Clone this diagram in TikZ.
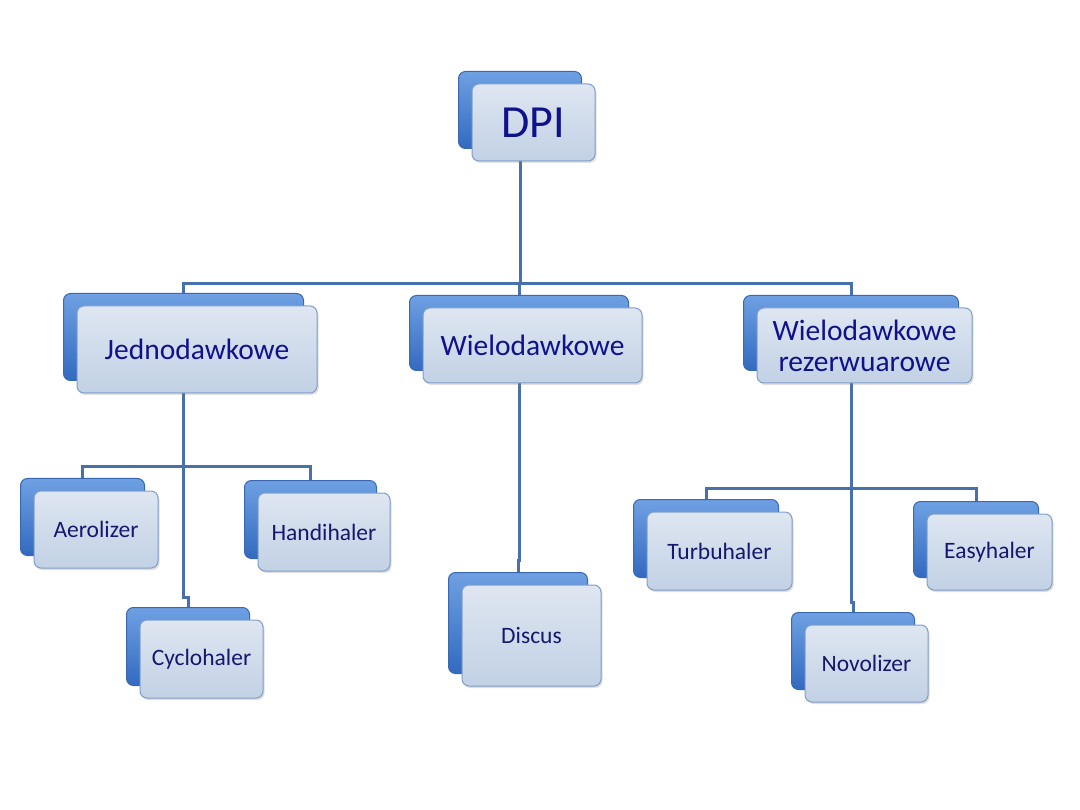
\documentclass[tikz,border=0pt]{standalone}
\usepackage{fontspec}
\setmainfont{Carlito}
\usetikzlibrary{shadows,backgrounds}
\definecolor{linecol}{RGB}{72,112,170}
\definecolor{txtbig}{RGB}{16,18,140}
\definecolor{txtsmall}{RGB}{22,24,110}
\definecolor{backtop}{RGB}{110,160,226}
\definecolor{backbot}{RGB}{50,106,192}
\definecolor{backedge}{RGB}{58,104,178}
\definecolor{fronttop}{RGB}{222,230,241}
\definecolor{frontbot}{RGB}{194,209,229}
\definecolor{frontedge}{RGB}{128,158,200}
\tikzset{
  backbox/.style={rounded corners=7pt, top color=backtop, bottom color=backbot,
    draw=backedge, line width=1pt, inner sep=0pt},
  frontbox/.style={rounded corners=7pt, top color=fronttop, bottom color=frontbot,
    draw=frontedge, line width=1pt, inner sep=0pt, align=center,
    drop shadow={opacity=0.25, shadow xshift=1.5pt, shadow yshift=-2pt}},
  big/.style={font=\fontsize{29.5}{31}\selectfont, text=txtbig},
  small/.style={font=\fontsize{23.5}{25}\selectfont, text=txtsmall},
  conn/.style={draw=linecol, line width=3pt},
}
\newcommand{\dbox}[7]{%
  % #1 name, #2 cx, #3 cy, #4 w, #5 h, #6 style, #7 text
  \node[backbox, minimum width=#4pt, minimum height=#5pt] (#1b) at (#2-13.5,#3-12.5) {};
  \node[frontbox, minimum width=#4pt, minimum height=#5pt, #6] (#1) at (#2,#3) {#7};
}
\begin{document}
\begin{tikzpicture}[x=1pt,y=-1pt]
\useasboundingbox (0,0) rectangle (1080,810);
\dbox{dpi}{533.5}{122.5}{123}{77}{font=\fontsize{46}{48}\selectfont, text=txtbig}{DPI}
\dbox{J}{197}{349.5}{240}{87}{big}{Jednodawkowe}
\dbox{W}{532.5}{345.5}{219}{75}{big}{Wielodawkowe}
\dbox{R}{864.5}{345.5}{215}{75}{big}{Wielodawkowe\\rezerwuarowe}
\dbox{A}{96}{529.5}{124}{77}{small}{Aerolizer}
\dbox{H}{324}{532}{132}{78}{small}{Handihaler}
\dbox{C}{201.5}{659}{123}{78}{small}{Cyclohaler}
\dbox{D}{531.5}{635.5}{139}{101}{small}{Discus}
\dbox{T}{719.5}{551}{145}{78}{small}{Turbuhaler}
\dbox{N}{866.5}{663.5}{123}{77}{small}{Novolizer}
\dbox{E}{989.5}{552}{125}{76}{small}{Easyhaler}
\coordinate (h1) at (0,284);
\coordinate (h2) at (0,467);
\coordinate (h3) at (0,488);
\coordinate (j1) at (0,597);
\coordinate (j2) at (0,560);
\coordinate (j3) at (0,602);
\begin{scope}[on background layer]
\fill[white] (0,0) rectangle (1080,810);
\draw[conn] (dpib.center) |- (Jb.north |- h1) -- (Jb.north);
\draw[conn] (dpib.center) |- (Rb.north |- h1) -- (Rb.north);
\draw[conn] (dpib.center) |- (Wb.north |- h1) -- (Wb.north);
\draw[conn] (Jb.center) |- (Ab.north |- h2) -- (Ab.north);
\draw[conn] (Jb.center) |- (Hb.north |- h2) -- (Hb.north);
\draw[conn] (Jb.center) -- (Jb.center |- j1) -| (Cb.north);
\draw[conn] (Wb.center) -- (Wb.center |- j2) -| (Db.north);
\draw[conn] (Rb.center) |- (Tb.north |- h3) -- (Tb.north);
\draw[conn] (Rb.center) |- (Eb.north |- h3) -- (Eb.north);
\draw[conn] (Rb.center) -- (Rb.center |- j3) -| (Nb.north);
\end{scope}
\end{tikzpicture}
\end{document}
